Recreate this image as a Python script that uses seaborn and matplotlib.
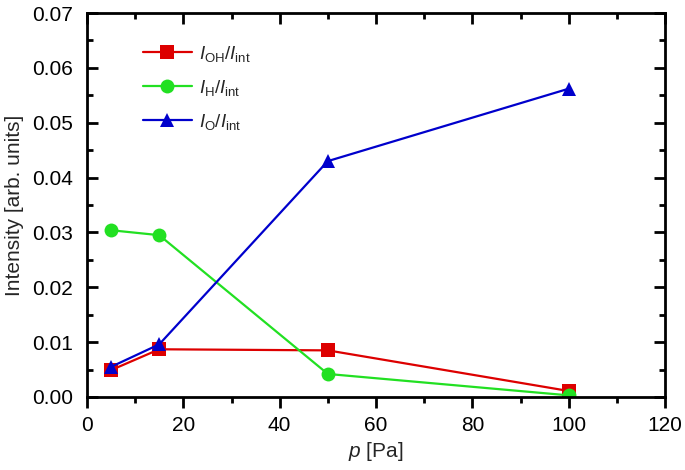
import matplotlib
matplotlib.use("Agg")
import matplotlib.pyplot as plt
import seaborn as sns
import pandas as pd
from matplotlib.ticker import MultipleLocator, FormatStrFormatter

sns.set_theme(style="ticks")
plt.rcParams['font.family'] = ['Liberation Sans', 'DejaVu Sans']
plt.rcParams['mathtext.fontset'] = 'custom'
plt.rcParams['mathtext.rm'] = 'Liberation Sans'
plt.rcParams['mathtext.it'] = 'Liberation Sans:italic'

pressure = [5, 15, 50, 100]
oh_int = [0.0049, 0.0087, 0.0085, 0.0011]
h_int = [0.0304, 0.0295, 0.0042, 0.0003]
o_int = [0.0055, 0.0096, 0.0430, 0.0562]
labels = [r"$I_{\mathrm{OH}}/I_{\mathrm{int}}$",
          r"$I_{\mathrm{H}}/I_{\mathrm{int}}$",
          r"$I_{\mathrm{O}}/I_{\mathrm{int}}$"]

df = pd.DataFrame({
    "p": pressure * 3,
    "val": oh_int + h_int + o_int,
    "series": [labels[0]] * 4 + [labels[1]] * 4 + [labels[2]] * 4,
})

palette = {labels[0]: "#dd0000", labels[1]: "#22e022", labels[2]: "#0000cc"}
markers = {labels[0]: "s", labels[1]: "o", labels[2]: "^"}

fig = plt.figure(figsize=(6.85, 4.70), dpi=100)
ax = fig.add_axes([87 / 685, 73 / 470, 578 / 685, 384 / 470])

sns.lineplot(data=df, x="p", y="val", hue="series", style="series",
             palette=palette, markers=markers, dashes=False,
             markersize=10, linewidth=1.6, markeredgewidth=0, ax=ax)

ax.set_xlim(0, 120)
ax.set_ylim(0, 0.07)
ax.xaxis.set_major_locator(MultipleLocator(20))
ax.xaxis.set_minor_locator(MultipleLocator(10))
ax.yaxis.set_major_locator(MultipleLocator(0.01))
ax.yaxis.set_minor_locator(MultipleLocator(0.005))
ax.yaxis.set_major_formatter(FormatStrFormatter('%.2f'))

ax.tick_params(which="both", colors="black", labelsize=15, width=2,
               top=True, right=True)
ax.tick_params(axis="x", which="both", direction="out", pad=6)
ax.tick_params(axis="y", which="both", direction="in", pad=10)
ax.tick_params(which="major", length=8)
ax.tick_params(which="minor", length=4.5)
# top ticks point inward
for t in ax.xaxis.get_major_ticks() + ax.xaxis.get_minor_ticks():
    t.tick2line.set_marker(3)
for s in ax.spines.values():
    s.set_linewidth(2)
    s.set_color("black")

ax.set_xlabel(r"$p$ [Pa]", fontsize=15, labelpad=3)
ax.set_ylabel("Intensity [arb. units]", fontsize=15, labelpad=6)

leg = ax.legend(loc="upper left", bbox_to_anchor=(0.097, 0.92), frameon=False,
                fontsize=13.5, handlelength=2.6, handletextpad=0.4,
                labelspacing=0.75, borderaxespad=0, borderpad=0, title=None)

fig.savefig("out.png", dpi=100)
